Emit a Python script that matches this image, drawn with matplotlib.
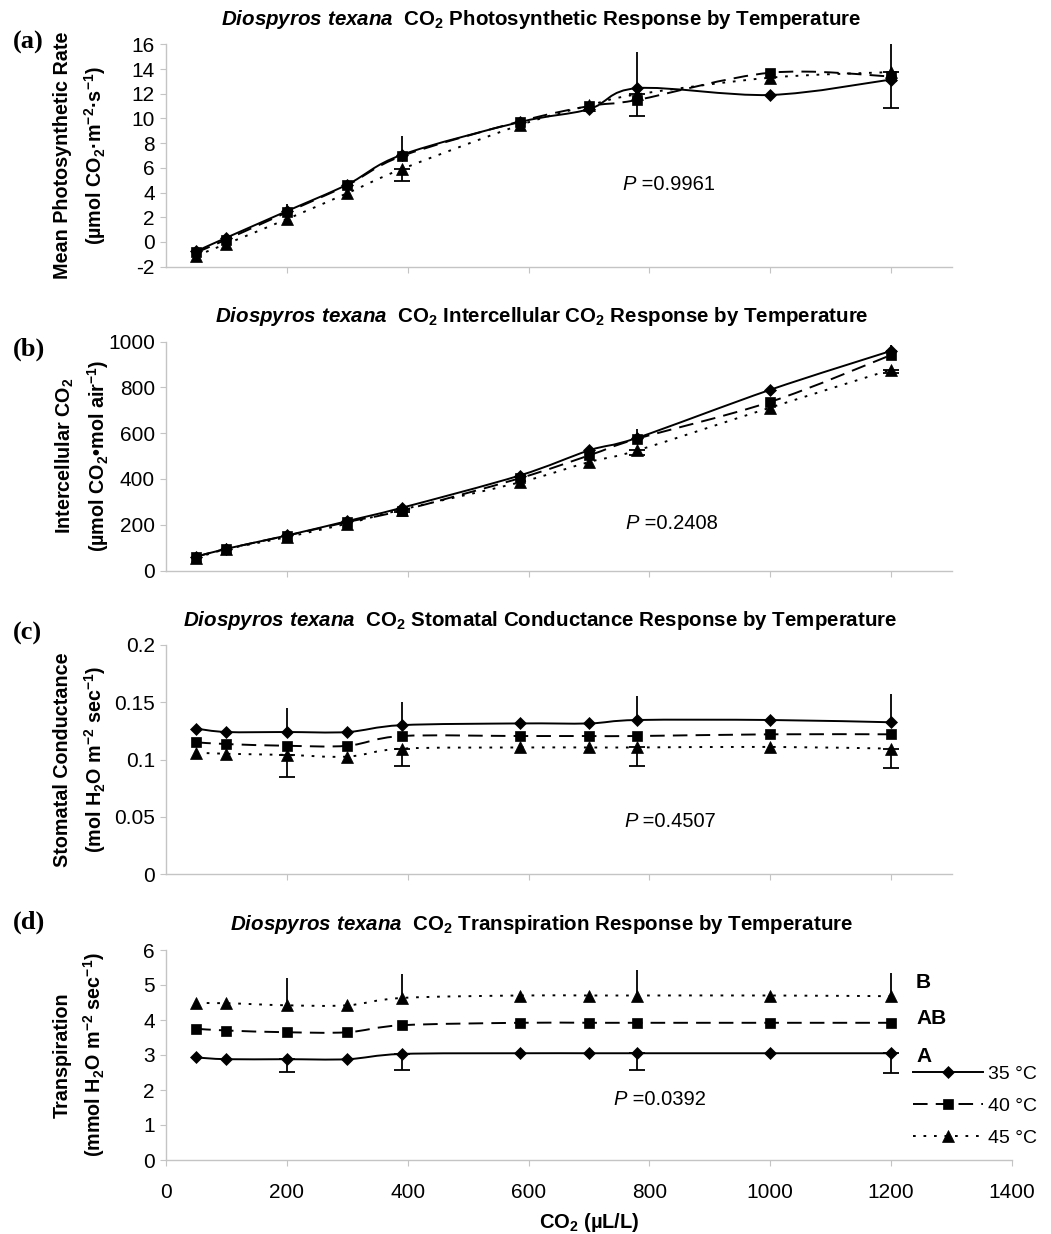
import numpy as np
import matplotlib
matplotlib.use("Agg")
import matplotlib.pyplot as plt
from matplotlib.path import Path
from matplotlib.patches import PathPatch
from matplotlib.lines import Line2D

plt.rcParams['font.family'] = ['Liberation Sans', 'DejaVu Sans']
plt.rcParams['axes.unicode_minus'] = False
plt.rcParams['mathtext.fontset'] = 'custom'
plt.rcParams['mathtext.rm'] = 'Liberation Sans:bold'
plt.rcParams['mathtext.it'] = 'Liberation Sans:italic:bold'
plt.rcParams['mathtext.bf'] = 'Liberation Sans:bold'

# ---------------- data ----------------
co2 = [50, 100, 200, 300, 390, 585, 700, 780, 1000, 1200]
temps = ["35 °C", "40 °C", "45 °C"]

# (a) photosynthetic rate
photo_35 = [-0.75, 0.35, 2.5, 4.65, 7.05, 9.7, 10.75, 12.45, 11.9, 13.15]
photo_40 = [-0.85, 0.2, 2.4, 4.6, 6.95, 9.75, 11.0, 11.5, 13.7, 13.4]
photo_45 = [-1.1, -0.15, 1.85, 3.95, 5.9, 9.45, 11.05, 11.95, 13.3, 13.75]
photo_err_up_35 = [0, 0, 0.6, 0, 1.55, 0, 0, 2.9, 0, 3.25]
photo_err_dn_45 = [0, 0, 0, 0, 0.97, 0, 0, 1.75, 0, 2.9]

# (b) intercellular CO2
ci_35 = [60, 95, 153, 216, 274, 415, 525, 580, 790, 960]
ci_40 = [60, 95, 152, 212, 262, 403, 503, 576, 737, 942]
ci_45 = [55, 93, 146, 205, 266, 385, 474, 525, 712, 878]
ci_err_up_35 = [0, 0, 0, 0, 12, 0, 0, 38, 0, 25]
ci_err_dn_45 = [0, 0, 0, 0, 10, 0, 0, 20, 0, 15]

# (c) stomatal conductance
gs_35 = [0.127, 0.124, 0.124, 0.124, 0.130, 0.1315, 0.1315, 0.1345, 0.1345, 0.1325]
gs_40 = [0.115, 0.1135, 0.112, 0.112, 0.1205, 0.1205, 0.1205, 0.1205, 0.122, 0.122]
gs_45 = [0.106, 0.105, 0.104, 0.1025, 0.1095, 0.1105, 0.1105, 0.1105, 0.111, 0.1095]
gs_err_up_35 = [0, 0, 0.0207, 0, 0.0205, 0, 0, 0.0212, 0, 0.0245]
gs_err_dn_45 = [0, 0, 0.0196, 0, 0.0149, 0, 0, 0.0164, 0, 0.0168]

# (d) transpiration
tr_35 = [2.93, 2.88, 2.88, 2.88, 3.03, 3.05, 3.05, 3.05, 3.05, 3.05]
tr_40 = [3.75, 3.70, 3.65, 3.65, 3.85, 3.92, 3.92, 3.92, 3.92, 3.92]
tr_45 = [4.48, 4.48, 4.42, 4.42, 4.63, 4.70, 4.70, 4.70, 4.70, 4.68]
tr_err_up_45 = [0, 0, 0.77, 0, 0.68, 0, 0, 0.73, 0, 0.66]
tr_err_dn_35 = [0, 0, 0.36, 0, 0.46, 0, 0, 0.48, 0, 0.56]
tr_letters = ["A", "AB", "B"]

titles = ["CO$_2$ Photosynthetic Response by Temperature",
          "CO$_2$ Intercellular CO$_2$ Response by Temperature",
          "CO$_2$ Stomatal Conductance Response by Temperature",
          "CO$_2$ Transpiration Response by Temperature"]
panel_tags = ["(a)", "(b)", "(c)", "(d)"]
ylabels1 = ["Mean Photosynthetic Rate", "Intercellular CO$_2$",
            "Stomatal Conductance", "Transpiration"]
ylabels2 = ["(µmol CO$_2$·m$^{-2}$·s$^{-1}$)", "(µmol CO$_2$•mol air$^{-1}$)",
            "(mol H$_2$O m$^{-2}$ sec$^{-1}$)", "(mmol H$_2$O m$^{-2}$ sec$^{-1}$)"]
p_values = ["=0.9961", "=0.2408", "=0.4507", "=0.0392"]

yticks_a = [-2, 0, 2, 4, 6, 8, 10, 12, 14, 16]
ytick_labels_a = ["-2", "0", "2", "4", "6", "8", "10", "12", "14", "16"]
yticks_b = [0, 200, 400, 600, 800, 1000]
ytick_labels_b = ["0", "200", "400", "600", "800", "1000"]
yticks_c = [0, 0.05, 0.1, 0.15, 0.2]
ytick_labels_c = ["0", "0.05", "0.1", "0.15", "0.2"]
yticks_d = [0, 1, 2, 3, 4, 5, 6]
ytick_labels_d = ["0", "1", "2", "3", "4", "5", "6"]
xticks = [0, 200, 400, 600, 800, 1000, 1200, 1400]
xtick_labels = ["0", "200", "400", "600", "800", "1000", "1200", "1400"]

# ---------------- styling ----------------
W, H = 1051, 1234
fig = plt.figure(figsize=(W / 100, H / 100), dpi=100)

def fx(px):
    return px / W

def fy(py):
    return 1 - py / H

LW = 1.4
styles = [
    dict(ls='-', marker='D', ms=6.5),
    dict(ls=(0, (7.5, 4.2)), marker='s', ms=7.2),
    dict(ls=(0, (1.4, 4.0)), marker='^', ms=8.2),
]
GRAY = '#c4c4c4'

def smooth_path(xs, ys):
    P = np.column_stack([xs, ys]).astype(float)
    n = len(P)
    verts = [P[0]]
    codes = [Path.MOVETO]
    for i in range(n - 1):
        p0 = P[i - 1] if i > 0 else P[i]
        p1 = P[i]
        p2 = P[i + 1]
        p3 = P[i + 2] if i + 2 < n else P[i + 1]
        c1 = p1 + (p2 - p0) / 6.0
        c2 = p2 - (p3 - p1) / 6.0
        verts += [c1, c2, p2]
        codes += [Path.CURVE4] * 3
    return Path(verts, codes)

# axes boxes in pixels: (left, top, right, bottom)
boxes = [(166, 44.3, 951.6, 266.7),
         (166, 341.7, 951.6, 570.5),
         (166, 645, 951.6, 874),
         (166, 950, 1012, 1160)]
ylims = [(-2, 16), (0, 1000), (0, 0.2), (0, 6)]
xlims = [1300, 1300, 1300, 1400]
series = [(photo_35, photo_40, photo_45), (ci_35, ci_40, ci_45),
          (gs_35, gs_40, gs_45), (tr_35, tr_40, tr_45)]
yticks_all = [(yticks_a, ytick_labels_a), (yticks_b, ytick_labels_b),
              (yticks_c, ytick_labels_c), (yticks_d, ytick_labels_d)]
errs = [((0, photo_err_up_35), (2, photo_err_dn_45)),
        ((0, ci_err_up_35), (2, ci_err_dn_45)),
        ((0, gs_err_up_35), (2, gs_err_dn_45)),
        ((2, tr_err_up_45), (0, tr_err_dn_35))]
title_pos = [(221, 25), (215, 322.5), (183, 626), (230, 930)]
tag_pos = [(13, 49), (13, 356), (13, 640), (13, 929)]
ylab_x = [(62, 95), (65, 98), (62, 95), (62, 94)]
p_pos = [(755, 4.67), (760, 207), (758, 0.0457), (740, 1.73)]

axes = []
for k in range(4):
    l, t, r, b = boxes[k]
    ax = fig.add_axes([fx(l), fy(b), fx(r) - fx(l), fy(t) - fy(b)])
    axes.append(ax)
    ax.set_xlim(0, xlims[k])
    ax.set_ylim(*ylims[k])
    for s in ['top', 'right']:
        ax.spines[s].set_visible(False)
    for s in ['left', 'bottom']:
        ax.spines[s].set_color(GRAY)
        ax.spines[s].set_linewidth(1.0)
    ax.tick_params(axis='both', direction='out', length=4.5, width=0.8,
                   color=GRAY, labelsize=15, labelcolor='black')
    ax.tick_params(axis='y', pad=3.5)
    ax.tick_params(axis='x', pad=12)
    yt, ytl = yticks_all[k]
    ax.set_yticks(yt)
    ax.set_yticklabels(ytl)
    if k == 3:
        ax.set_xticks(xticks)
        ax.set_xticklabels(xtick_labels)
    else:
        ax.set_xticks(xticks[1:7])
        ax.set_xticklabels([])

    for j, ys in enumerate(series[k]):
        st = styles[j]
        patch = PathPatch(smooth_path(co2, ys), fill=False, edgecolor='black',
                          lw=LW, linestyle=st['ls'], capstyle='butt', zorder=3)
        ax.add_patch(patch)
        ax.plot(co2, ys, linestyle='none', marker=st['marker'], ms=st['ms'],
                color='black', mec='black', mew=0.5, zorder=4)

    (iu, up), (idn, dn) = errs[k]
    yu = series[k][iu]
    yd = series[k][idn]
    xu = [x for x, e in zip(co2, up) if e > 0]
    yuu = [y for y, e in zip(yu, up) if e > 0]
    eu = [e for e in up if e > 0]
    ax.errorbar(xu, yuu, yerr=[[0] * len(eu), eu], fmt='none', ecolor='black',
                elinewidth=1.3, capsize=0, zorder=5)
    xd = [x for x, e in zip(co2, dn) if e > 0]
    ydd = [y for y, e in zip(yd, dn) if e > 0]
    ed = [e for e in dn if e > 0]
    ax.errorbar(xd, ydd, yerr=[ed, [0] * len(ed)], fmt='none', ecolor='black',
                elinewidth=1.3, capsize=5.5, capthick=1.3, zorder=5)

    # P value
    px, py = p_pos[k]
    tP = ax.text(px, py, "P", fontsize=14.5, style='italic', va='center', ha='left')
    ax.annotate(" " + p_values[k], xy=(1, 0), xycoords=tP, fontsize=14.5,
                va='bottom', ha='left')

    # titles
    tx, ty = title_pos[k]
    fig.text(fx(tx), fy(ty), r"$\mathit{Diospyros\ texana}$  " + titles[k],
             fontsize=14.8, fontweight='bold', ha='left', va='baseline')
    # panel tags
    gx, gy = tag_pos[k]
    fig.text(fx(gx), fy(gy), panel_tags[k], fontsize=19, fontweight='bold',
             family=['Liberation Serif', 'DejaVu Serif'], ha='left', va='baseline')
    # y labels
    yc = fy((t + b) / 2)
    x1, x2 = ylab_x[k]
    fig.text(fx(x1), yc, ylabels1[k], rotation=90, fontsize=14.2,
             fontweight='bold', ha='center', va='center')
    fig.text(fx(x2), yc, ylabels2[k], rotation=90, fontsize=14.2,
             fontweight='bold', ha='center', va='center')

# letters for panel (d)
letter_y = [1056.5, 1019, 982]
for lab, ly in zip(tr_letters, letter_y):
    fig.text(fx(916), fy(ly), lab, fontsize=15, fontweight='bold',
             ha='left', va='center')

# x label
fig.text(fx(589), fy(1222), "CO$_2$ (µL/L)", fontsize=14.5, fontweight='bold',
         ha='center', va='center')

# legend
handles = [Line2D([], [], color='black', lw=LW, linestyle=st['ls'],
                  marker=st['marker'], ms=st['ms'], mew=0.5)
           for st in styles]
fig.legend(handles, temps, loc='upper left',
           bbox_to_anchor=(fx(912.5), fy(1065)), bbox_transform=fig.transFigure,
           frameon=False, fontsize=14, handlelength=3.6, handletextpad=0.3,
           labelspacing=0.75, borderpad=0, borderaxespad=0, numpoints=1)

fig.savefig("out.png", dpi=100)
